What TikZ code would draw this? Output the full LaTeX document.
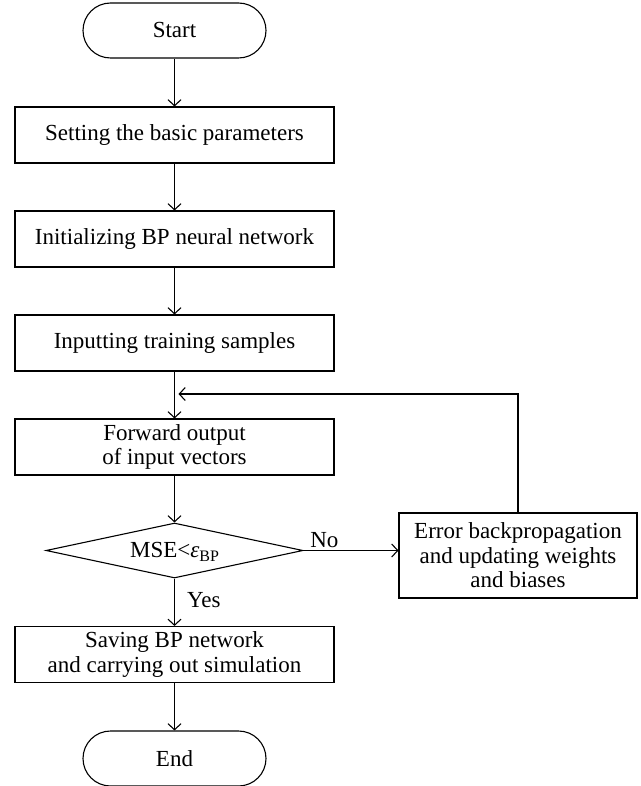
\documentclass[tikz,border=0pt]{standalone}
\usepackage{fontspec}
\setmainfont{Liberation Serif}
\usetikzlibrary{shapes.geometric,arrows.meta}
\begin{document}
\begin{tikzpicture}[x=1pt,y=-1pt,
  every node/.style={font=\fontsize{23}{24.5}\selectfont, align=center},
  base/.style={draw, line width=1.1pt, inner sep=0pt},
  term/.style={base, rectangle, rounded corners=27.5pt, minimum width=183pt, minimum height=55pt},
  proc/.style={base, rectangle, minimum width=319pt, minimum height=56pt},
  errbox/.style={base, rectangle, minimum width=238pt, minimum height=85pt},
  dec/.style={base, diamond, minimum width=257pt, minimum height=55pt},
  lbl/.style={draw=none, font=\fontsize{23}{24}\selectfont, inner sep=2pt},
  conn/.style={line width=1.1pt, -{Straight Barb[length=6pt,width=13pt,line width=1.1pt]}},
  line/.style={line width=1.1pt}
]
\useasboundingbox (0,0) rectangle (640,786);
\node[term] (start) at (174.5,30.5) {Start};
\node[proc] (s1) at (174.5,135) {Setting the basic parameters};
\node[proc] (s2) at (174.5,239) {Initializing BP neural network};
\node[proc] (s3) at (174.5,343) {Inputting training samples};
\node[proc] (s4) at (174.5,447) {Forward output\\of input vectors};
\node[dec] (d) at (174.5,550.5) {};
\node[lbl] (dtext) at (174.5,552) {MSE<{\itshape ε}\raisebox{-0.35ex}{\fontsize{16}{16}\selectfont BP}};
\node[errbox] (err) at (518,555.5) {Error backpropagation\\and updating weights\\and biases};
\node[proc] (s5) at (174.5,654.5) {Saving BP network\\and carrying out simulation};
\node[term] (end) at (174.5,758.5) {End};
\coordinate (join) at (178.5,394);
\draw[conn] (start) -- (s1);
\draw[conn] (s1) -- (s2);
\draw[conn] (s2) -- (s3);
\draw[conn] (s3) -- (s4);
\draw[conn] (s4) -- (d);
\draw[conn] (d.east) -- (d.east -| err.west) node[lbl, pos=0.22, above] (no) {No};
\draw[conn] (d.south) -- (s5) node[lbl, pos=0.45, right, xshift=10pt] (yes) {Yes};
\draw[conn] (s5) -- (end);
\draw[conn] (err.north) -- (err.north |- join) -- (join);
\end{tikzpicture}
\end{document}
